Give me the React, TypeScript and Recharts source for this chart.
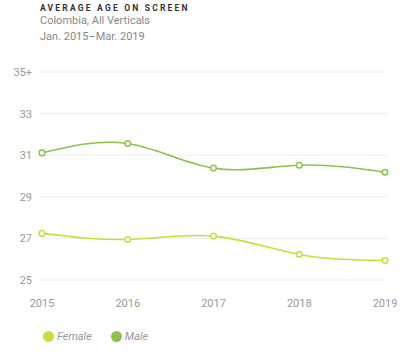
import { LineChart, Line, XAxis, YAxis, CartesianGrid } from 'recharts';

const years = ['2015', '2016', '2017', '2018', '2019'];
const female = [27.24, 26.95, 27.11, 26.23, 25.94];
const male = [31.11, 31.56, 30.38, 30.52, 30.18];
const yTicks = [25, 27, 29, 31, 33, 35];

const FEMALE = '#cddc39';
const MALE = '#8bc34a';

const data = years.map((y, i) => ({ year: y, female: female[i], male: male[i] }));

export default function App() {
  return (
    <div style={{ position: 'absolute', left: 0, top: 0, width: 420, height: 360, background: '#fff', fontFamily: 'Roboto, sans-serif' }}>
      <div style={{ position: 'absolute', left: 40, top: 3, fontSize: 8.5, fontWeight: 700, letterSpacing: 2.2, color: '#333' }}>
        AVERAGE AGE ON SCREEN
      </div>
      <div style={{ position: 'absolute', left: 40, top: 14, fontSize: 11, color: '#888' }}>Colombia, All Verticals</div>
      <div style={{ position: 'absolute', left: 40, top: 30, fontSize: 11, color: '#888' }}>Jan. 2015–Mar. 2019</div>

      <div style={{ position: 'absolute', left: 0, top: 0 }}>
        <LineChart width={420} height={360} data={data} margin={{ top: 72, right: 33, left: 0, bottom: 50 }}>
          <CartesianGrid stroke="#eeeeee" vertical={false} />
          <XAxis
            dataKey="year"
            axisLine={false}
            tickLine={false}
            tickMargin={13}
            padding={{ left: 2, right: 2 }}
            tick={{ fontSize: 11, fill: '#999' }}
            height={30}
          />
          <YAxis
            domain={[25, 35]}
            ticks={yTicks}
            axisLine={false}
            tickLine={false}
            width={40}
            tick={{ fontSize: 11, fill: '#999' }}
            tickFormatter={(v: number) => (v === 35 ? '35+' : String(v))}
          />
          <Line type="natural" dataKey="female" stroke={FEMALE} strokeWidth={1.6} dot={{ r: 2.8, fill: '#fff', stroke: FEMALE, strokeWidth: 1.5 }} isAnimationActive={false} />
          <Line type="natural" dataKey="male" stroke={MALE} strokeWidth={1.6} dot={{ r: 2.8, fill: '#fff', stroke: MALE, strokeWidth: 1.5 }} isAnimationActive={false} />
        </LineChart>
      </div>

      <div style={{ position: 'absolute', left: 43, top: 330, display: 'flex', alignItems: 'center', fontSize: 11, fontStyle: 'italic', color: '#999' }}>
        <span style={{ width: 11, height: 11, borderRadius: '50%', background: FEMALE, display: 'inline-block', marginRight: 3 }} />
        <span style={{ marginRight: 19 }}>Female</span>
        <span style={{ width: 11, height: 11, borderRadius: '50%', background: MALE, display: 'inline-block', marginRight: 3 }} />
        <span>Male</span>
      </div>
    </div>
  );
}
